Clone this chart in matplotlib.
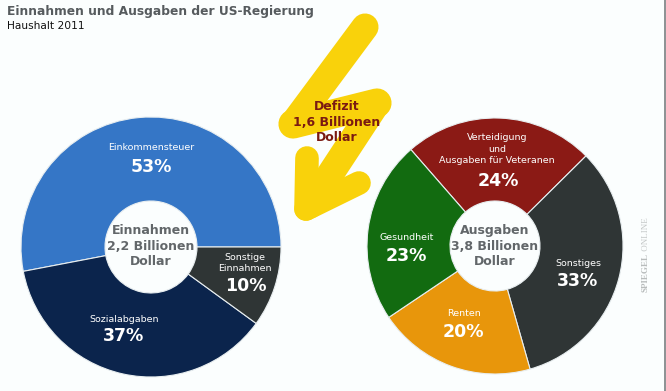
import matplotlib.pyplot as plt

plt.rcParams['path.simplify'] = False

# Haushalt 2011 - Einnahmen / Ausgaben (Prozent)
einnahmen_labels = ['Einkommensteuer', 'Sozialabgaben', 'Sonstige\nEinnahmen']
einnahmen_werte = [53, 37, 10]
einnahmen_summe = 'Einnahmen\n2,2 Billionen\nDollar'

ausgaben_labels = ['Verteidigung\nund\nAusgaben für Veteranen', 'Sonstiges', 'Renten', 'Gesundheit']
ausgaben_werte = [24, 33, 20, 23]
ausgaben_summe = 'Ausgaben\n3,8 Billionen\nDollar'

defizit_text = 'Defizit\n1,6 Billionen\nDollar'

titel = 'Einnahmen und Ausgaben der US-Regierung'
untertitel = 'Haushalt 2011'

# --- Layout (Pixel, y von oben) ---
W, H = 666, 391
BG = '#fbfefe'

def Y(y):
    return H - y

einnahmen_farben = ['#3576c6', '#0b244c', '#2f3535']
ausgaben_farben = ['#8b1a15', '#2f3535', '#e8960b', '#126b10']

fig = plt.figure(figsize=(W / 100, H / 100), dpi=100)
fig.patch.set_facecolor(BG)
ax = fig.add_axes([0, 0, 1, 1])
ax.set_facecolor(BG)

R_OUT, R_IN = 130, 46
wp = dict(width=R_OUT - R_IN, edgecolor='#e8eef0', linewidth=0.8)

# linker Ring
ax.pie(einnahmen_werte, colors=einnahmen_farben, startangle=0,
       center=(151, Y(247)), radius=R_OUT, wedgeprops=wp)
# rechter Ring (im Uhrzeigersinn, Verteidigung oben)
ax.pie(ausgaben_werte, colors=ausgaben_farben, startangle=131.1, counterclock=False,
       center=(495, Y(246)), radius=128, wedgeprops=dict(wp, width=128 - 45))

ax.set_xlim(0, W)
ax.set_ylim(0, H)
ax.set_aspect('auto')
ax.axis('off')

# Label-Positionen (Name, Prozent)
links_pos = [((151, 148), (151, 167)), ((124, 319), (123, 336)), ((245, 263), (246, 286))]
rechts_pos = [((497, 149), (498, 181)), ((578, 263), (578, 281)),
              ((464, 313), (463, 332)), ((407, 237), (406, 256))]

def beschriften(labels, werte, pos):
    for lab, val, (p1, p2) in zip(labels, werte, pos):
        ax.text(p1[0], Y(p1[1]), lab, color='white', fontsize=6.8, ha='center', va='center',
                linespacing=1.35)
        ax.text(p2[0], Y(p2[1]), f'{val}%', color='white', fontsize=12.5, fontweight='bold',
                ha='center', va='center')

beschriften(einnahmen_labels, einnahmen_werte, links_pos)
beschriften(ausgaben_labels, ausgaben_werte, rechts_pos)

ax.text(151, Y(246), einnahmen_summe, color='#62676a', fontsize=9, fontweight='bold',
        ha='center', va='center', linespacing=1.25)
ax.text(495, Y(246), ausgaben_summe, color='#62676a', fontsize=9, fontweight='bold',
        ha='center', va='center', linespacing=1.25)

# Blitz-Pfeil (einzelne Striche)
gelb = '#f9d20b'
striche = [
    ([365, 293], [27, 124], 19.5),
    ([293, 377], [124, 103], 21),
    ([377, 310], [103, 205], 19.5),
    ([307, 306], [158, 209], 17),
    ([306, 359], [209, 183], 17),
]
for xs, ys, lw in striche:
    ax.plot(xs, [Y(v) for v in ys], color=gelb, lw=lw, solid_capstyle='round',
            solid_joinstyle='round', zorder=3)
ax.text(337, Y(122), defizit_text, color='#7a1a12', fontsize=9, fontweight='bold',
        ha='center', va='center', linespacing=1.25, zorder=4)

# Titel
ax.text(7, Y(12), titel, color='#565b5e', fontsize=8.8, fontweight='bold', ha='left', va='center')
ax.text(7, Y(26), untertitel, color='#111111', fontsize=7.7, ha='left', va='center')

# Wasserzeichen
ax.text(646, Y(253), 'SPIEGEL', color='#b8bcbc', fontsize=6.5, fontweight='bold',
        family='Liberation Serif', rotation=90, ha='center', va='top')
ax.text(646, Y(253), ' ONLINE', color='#c4c8c8', fontsize=6.5,
        family='Liberation Serif', rotation=90, ha='center', va='bottom')

# rechter Rand
ax.plot([W - 1.5, W - 1.5], [0, H], color='#7a7e80', lw=1.2)

fig.savefig('out.png', dpi=100, facecolor=BG)
